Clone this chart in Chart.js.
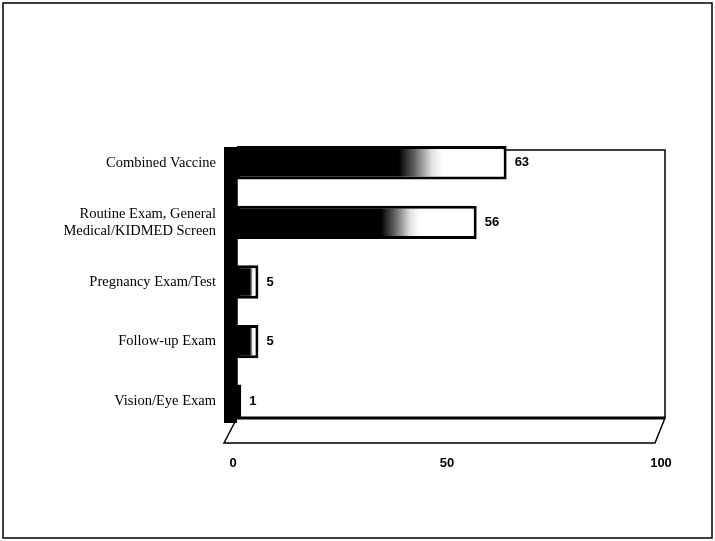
<!DOCTYPE html>
<html>
<head>
<meta charset="utf-8">
<script src="https://cdn.jsdelivr.net/npm/chart.js@4.4.1/dist/chart.umd.min.js"></script>
<style>
  html, body { margin: 0; padding: 0; background: #fff; }
  #wrap { width: 715px; height: 541px; }
</style>
</head>
<body>
<div id="wrap"><canvas id="grafik" width="715" height="541"></canvas></div>
<script>
const categories = [
  "Combined Vaccine",
  ["Routine Exam, General", "Medical/KIDMED Screen"],
  "Pregnancy Exam/Test",
  "Follow-up Exam",
  "Vision/Eye Exam"
];
const values = [63, 56, 5, 5, 1];
const xTicks = [0, 50, 100];

// gradient per bar: black, fading to a pale highlight near the end
function barFill(ctx) {
  const chart = ctx.chart;
  const x = chart.scales.x;
  if (!x || ctx.raw === undefined) return "#000";
  const x0 = x.getPixelForValue(0);
  const x1 = x.getPixelForValue(ctx.raw);
  if (!isFinite(x0) || !isFinite(x1) || x1 <= x0) return "#000";
  const g = chart.ctx.createLinearGradient(x0, 0, x1, 0);
  g.addColorStop(0, "#000");
  g.addColorStop(0.6, "#000");
  g.addColorStop(0.66, "#666");
  g.addColorStop(0.72, "#ddd");
  g.addColorStop(0.76, "#fff");
  g.addColorStop(1, "#fff");
  return g;
}

// frame, back wall, left wall and floor
const box3d = {
  id: "box3d",
  beforeDatasetsDraw(chart) {
    const c = chart.ctx;
    const a = chart.chartArea;
    const top = a.top + 17, bot = a.bottom - 13;
    c.save();
    c.strokeStyle = "#000";
    c.lineWidth = 1.5;
    c.strokeRect(3, 3, chart.width - 6, chart.height - 6);
    // back wall
    c.strokeRect(a.left, top, a.right - a.left, bot - top);
    // floor
    c.beginPath();
    c.moveTo(a.left, bot);
    c.lineTo(a.left - 13, bot + 25);
    c.lineTo(a.right - 10, bot + 25);
    c.lineTo(a.right, bot);
    c.stroke();
    c.lineWidth = 3;
    c.beginPath();
    c.moveTo(a.left, bot);
    c.lineTo(a.right, bot);
    c.stroke();
    // left wall
    c.fillStyle = "#000";
    c.fillRect(a.left - 13, top - 3, 13, bot - top + 8);
    c.restore();
  }
};

// value labels next to bars
const barValues = {
  id: "barValues",
  afterDatasetsDraw(chart) {
    const c = chart.ctx;
    const meta = chart.getDatasetMeta(0);
    c.save();
    c.fillStyle = "#000";
    c.font = "bold 13px 'Liberation Sans', Arial, sans-serif";
    c.textBaseline = "middle";
    meta.data.forEach((bar, i) => {
      c.fillText(String(values[i]), bar.x + 8, bar.y);
    });
    c.restore();
  }
};

new Chart(document.getElementById("grafik"), {
  type: "bar",
  data: {
    labels: categories,
    datasets: [{
      data: values,
      backgroundColor: barFill,
      borderColor: "#000",
      borderWidth: 3,
      borderSkipped: false,
      barPercentage: 0.56,
      categoryPercentage: 1
    }]
  },
  options: {
    indexAxis: "y",
    responsive: false,
    animation: false,
    layout: { padding: { left: 0, right: 50, top: 133, bottom: 60 } },
    plugins: {
      legend: { display: false },
      tooltip: { enabled: false }
    },
    scales: {
      x: {
        min: 0,
        max: 100,
        afterBuildTicks: (s) => { s.ticks = xTicks.map(v => ({ value: v })); },
        afterFit: (s) => { s.height = 50; },
        grid: { display: false, drawTicks: false },
        border: { display: false },
        ticks: {
          color: "#000",
          padding: 25,
          labelOffset: -4,
          font: { family: "'Liberation Sans', Arial, sans-serif", size: 13, weight: "bold" }
        }
      },
      y: {
        afterFit: (s) => { s.width = 237; },
        grid: { display: false, drawTicks: false },
        border: { display: false },
        ticks: {
          color: "#000",
          padding: 21,
          font: { family: "'Liberation Serif', 'Times New Roman', serif", size: 14.5 }
        }
      }
    }
  },
  plugins: [box3d, barValues]
});
</script>
</body>
</html>
